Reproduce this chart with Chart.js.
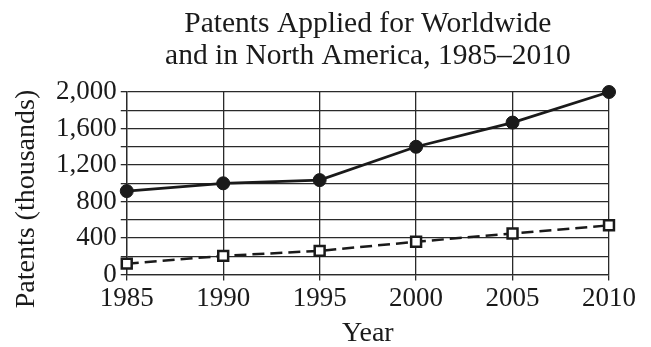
<!DOCTYPE html>
<html>
<head>
<meta charset="utf-8">
<script src="https://cdn.jsdelivr.net/npm/chart.js@4"></script>
<style>
  html, body { margin: 0; padding: 0; background: #fff; }
  canvas { display: block; }
</style>
</head>
<body>
<canvas id="patentsChart" width="651" height="347"></canvas>
<script>
// Patent applications, thousands
const years = ['1985', '1990', '1995', '2000', '2005', '2010'];
const worldwide = [915, 1000, 1035, 1400, 1665, 2000];
const northAmerica = [120, 205, 260, 360, 450, 540];
const titleLines = ['Patents Applied for Worldwide', 'and in North America, 1985\u20132010'];
const xTitle = 'Year';
const yTitle = 'Patents (thousands)';

const serif = '"Liberation Serif", "Times New Roman", serif';
const ink = '#1a1a1a';

// Titles drawn by hand so they sit where they belong relative to the plot
const plotTitles = {
    id: 'plotTitles',
    afterDraw(chart) {
        const { ctx, chartArea } = chart;
        const cx = (chartArea.left + chartArea.right) / 2;
        ctx.save();
        ctx.fillStyle = ink;
        ctx.textAlign = 'center';
        ctx.textBaseline = 'alphabetic';
        ctx.font = '29.5px ' + serif;
        titleLines.forEach((line, i) => ctx.fillText(line, cx, 32 + i * 32));

        ctx.font = '28px ' + serif;
        ctx.fillText(xTitle, cx, 341);

        ctx.translate(27, 199);
        ctx.rotate(-Math.PI / 2);
        ctx.textBaseline = 'middle';
        ctx.fillText(yTitle, 0, 0);
        ctx.restore();
    }
};

const ctx = document.getElementById('patentsChart').getContext('2d');
new Chart(ctx, {
    type: 'line',
    data: {
        labels: years,
        datasets: [{
            label: 'Worldwide',
            data: worldwide,
            borderColor: ink,
            backgroundColor: ink,
            borderWidth: 2.7,
            pointStyle: 'circle',
            pointRadius: 6.5,
            pointBorderWidth: 1,
            pointBackgroundColor: ink,
            tension: 0,
            clip: false
        }, {
            label: 'North America',
            data: northAmerica,
            borderColor: ink,
            borderWidth: 2.5,
            borderDash: [12, 6],
            pointStyle: 'rect',
            pointRadius: 7,
            pointBorderWidth: 2.5,
            pointBackgroundColor: '#ffffff',
            pointBorderColor: ink,
            tension: 0,
            clip: false
        }]
    },
    options: {
        responsive: false,
        animation: false,
        devicePixelRatio: 1,
        layout: { padding: { top: 92, right: 42, left: 52, bottom: 30 } },
        plugins: {
            legend: { display: false },
            title: { display: false },
            tooltip: { enabled: false }
        },
        scales: {
            x: {
                offset: false,
                grid: { color: '#2a2a2a', lineWidth: 1.3, tickLength: 6 },
                border: { color: '#2a2a2a', width: 1.3 },
                ticks: {
                    color: ink,
                    font: { family: serif, size: 27 },
                    padding: 2,
                    maxRotation: 0,
                    autoSkip: false
                }
            },
            y: {
                min: 0,
                max: 2000,
                grid: { color: '#2a2a2a', lineWidth: 1.3, tickLength: 6 },
                border: { color: '#2a2a2a', width: 1.3 },
                ticks: {
                    stepSize: 200,
                    autoSkip: false,
                    color: ink,
                    font: { family: serif, size: 27 },
                    padding: 4,
                    callback: v => (v % 400 === 0 ? v.toLocaleString('en-US') : '')
                }
            }
        }
    },
    plugins: [plotTitles]
});
</script>
</body>
</html>
